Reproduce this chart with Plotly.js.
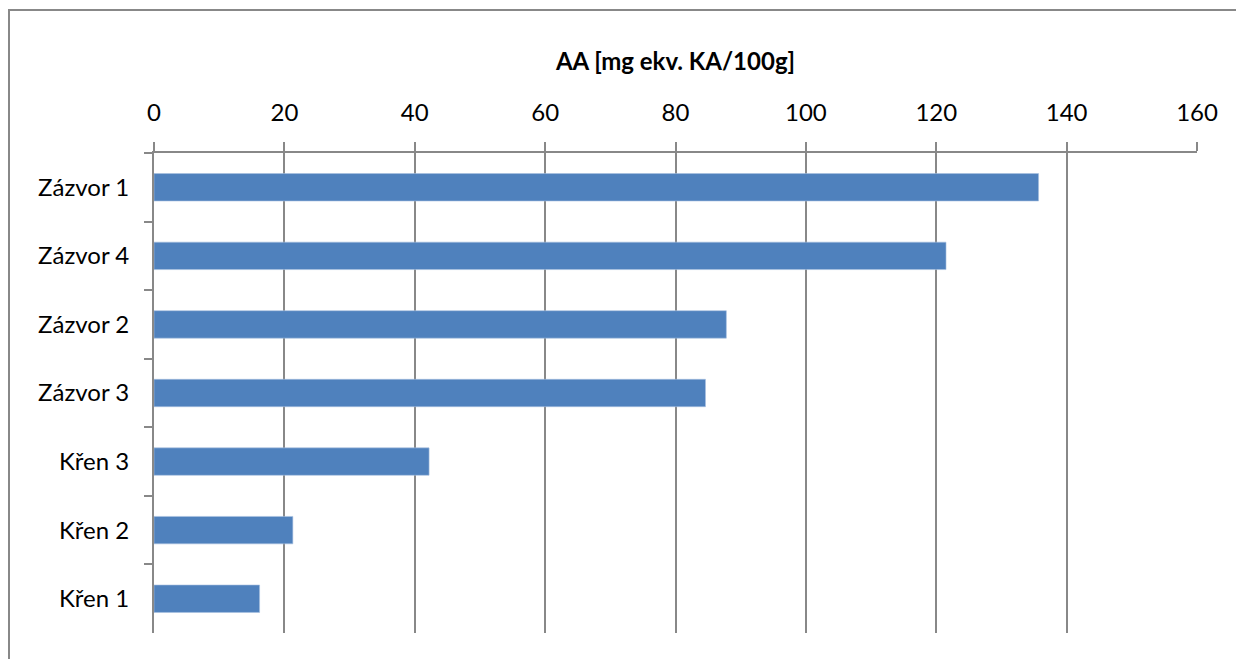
<!DOCTYPE html>
<html>
<head>
<meta charset="utf-8">
<script src="https://cdn.plot.ly/plotly-3.0.1.min.js"></script>
<style>
  html, body { margin: 0; padding: 0; background: #ffffff; overflow: hidden; }
  #chart { width: 1236px; height: 659px; }
  #frame {
    position: absolute; left: 8px; top: 9px; width: 1240px; height: 700px;
    border: 2px solid #888888; box-sizing: border-box; pointer-events: none;
  }
</style>
</head>
<body>
<div id="chart"></div>
<div id="frame"></div>
<script>
// Antioxidant activity of ginger and horseradish samples
const samples = ["Zázvor 1", "Zázvor 4", "Zázvor 2", "Zázvor 3", "Křen 3", "Křen 2", "Křen 1"];
const aaValues = [135.7, 121.5, 87.8, 84.6, 42.2, 21.3, 16.2];
const xTicks = [0, 20, 40, 60, 80, 100, 120, 140, 160];
const axisTitle = "AA [mg ekv. KA/100g]";

const gray = "#888888";
const fontFamily = "Lato, 'Open Sans', sans-serif";

const trace = {
  type: "bar",
  orientation: "h",
  x: aaValues,
  y: samples,
  marker: { color: "#4F81BD", line: { color: "#a9c1e0", width: 0.6 } },
  hoverinfo: "x+y"
};

const layout = {
  width: 1236,
  height: 659,
  margin: { l: 154, r: 39, t: 153, b: 26 },
  paper_bgcolor: "rgba(0,0,0,0)",
  plot_bgcolor: "#ffffff",
  bargap: 0.6,
  showlegend: false,
  font: { family: fontFamily, size: 24, color: "#000000" },
  xaxis: {
    side: "top",
    range: [0, 160],
    tickvals: xTicks,
    ticktext: xTicks.map(String),
    ticks: "outside",
    ticklen: 9,
    tickwidth: 2,
    tickcolor: gray,
    ticklabelstandoff: 11,
    showgrid: true,
    gridcolor: gray,
    gridwidth: 2,
    showline: true,
    linecolor: gray,
    linewidth: 2,
    zeroline: false,
    fixedrange: true,
    title: {
      text: "<b>" + axisTitle + "</b>",
      font: { family: fontFamily, size: 24, color: "#000000" },
      standoff: 20
    }
  },
  yaxis: {
    categoryorder: "array",
    categoryarray: samples,
    autorange: "reversed",
    tickson: "boundaries",
    ticks: "outside",
    ticklen: 8,
    tickwidth: 2,
    tickcolor: gray,
    ticklabelstandoff: 18,
    showgrid: false,
    showline: true,
    linecolor: gray,
    linewidth: 2,
    zeroline: false,
    fixedrange: true
  }
};

Plotly.newPlot("chart", [trace], layout, { displayModeBar: false, staticPlot: true });
</script>
</body>
</html>
